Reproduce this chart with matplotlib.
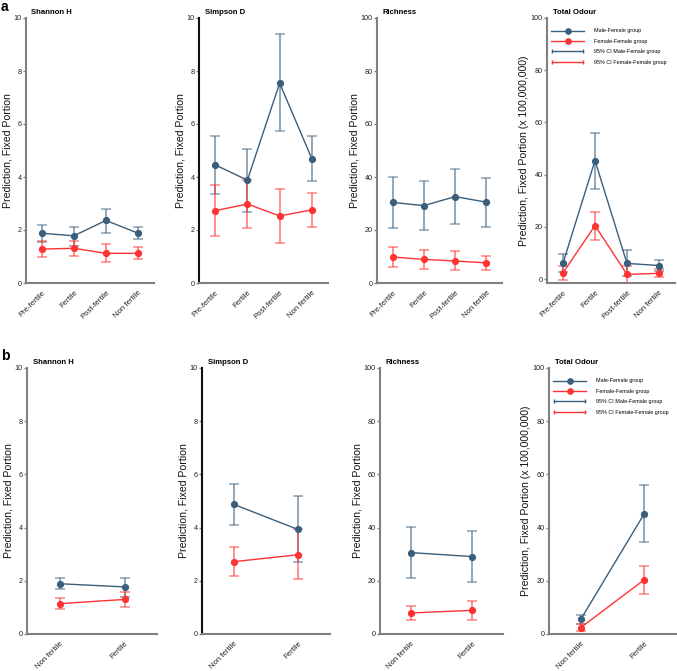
import matplotlib
matplotlib.use("Agg")
import matplotlib.pyplot as plt
from matplotlib.lines import Line2D
from matplotlib.legend_handler import HandlerLine2D
from matplotlib.transforms import ScaledTranslation

plt.rcParams['font.family'] = ['Liberation Sans', 'DejaVu Sans']

# ---------------- data ----------------
cats_a = ["Pre-fertile", "Fertile", "Post-fertile", "Non fertile"]
cats_b = ["Non fertile", "Fertile"]

# Row a
shan_mf_a = [1.88, 1.78, 2.36, 1.88]
shan_mf_a_lo = [1.55, 1.40, 1.90, 1.65]
shan_mf_a_hi = [2.19, 2.13, 2.81, 2.10]
shan_ff_a = [1.28, 1.31, 1.12, 1.12]
shan_ff_a_lo = [0.98, 1.02, 0.78, 0.89]
shan_ff_a_hi = [1.59, 1.60, 1.46, 1.35]

simp_mf_a = [4.46, 3.88, 7.54, 4.69]
simp_mf_a_lo = [3.35, 2.67, 5.72, 3.85]
simp_mf_a_hi = [5.54, 5.05, 9.38, 5.53]
simp_ff_a = [2.73, 2.98, 2.53, 2.76]
simp_ff_a_lo = [1.79, 2.09, 1.51, 2.13]
simp_ff_a_hi = [3.69, 3.88, 3.53, 3.39]

rich_mf_a = [30.4, 29.2, 32.6, 30.5]
rich_mf_a_lo = [20.8, 20.0, 22.2, 21.0]
rich_mf_a_hi = [39.9, 38.5, 43.2, 39.8]
rich_ff_a = [9.8, 8.9, 8.3, 7.6]
rich_ff_a_lo = [5.9, 5.4, 4.8, 4.9]
rich_ff_a_hi = [13.7, 12.6, 12.1, 10.2]

odour_mf_a = [6.1, 45.4, 6.0, 5.2]
odour_mf_a_lo = [2.8, 34.5, 1.2, 3.1]
odour_mf_a_hi = [9.5, 56.1, 11.1, 7.4]
odour_ff_a = [2.4, 20.5, 1.8, 2.2]
odour_ff_a_lo = [-0.5, 15.0, -1.7, 0.8]
odour_ff_a_hi = [5.1, 25.8, 5.1, 3.7]

# Row b
shan_mf_b = [1.89, 1.77]
shan_mf_b_lo = [1.69, 1.39]
shan_mf_b_hi = [2.11, 2.11]
shan_ff_b = [1.14, 1.30]
shan_ff_b_lo = [0.93, 1.00]
shan_ff_b_hi = [1.35, 1.58]

simp_mf_b = [4.87, 3.93]
simp_mf_b_lo = [4.11, 2.69]
simp_mf_b_hi = [5.64, 5.19]
simp_ff_b = [2.72, 2.98]
simp_ff_b_lo = [2.17, 2.08]
simp_ff_b_hi = [3.26, 3.96]

rich_mf_b = [30.6, 29.1]
rich_mf_b_lo = [21.1, 19.7]
rich_mf_b_hi = [40.1, 38.7]
rich_ff_b = [7.9, 8.9]
rich_ff_b_lo = [5.3, 5.4]
rich_ff_b_hi = [10.5, 12.4]

odour_mf_b = [5.5, 45.2]
odour_mf_b_lo = [3.6, 34.6]
odour_mf_b_hi = [7.3, 56.0]
odour_ff_b = [2.4, 20.4]
odour_ff_b_lo = [1.0, 14.9]
odour_ff_b_hi = [3.8, 25.6]

titles = ["Shannon H", "Simpson D", "Richness", "Total Odour"]
ylabels = ["Prediction, Fixed Portion"] * 3 + ["Prediction, Fixed Portion (x 100,000,000)"]
legend_labels = ["Male-Female group", "Female-Female group",
                 "95% CI Male-Female group", "95% CI Female-Female group"]

# ---------------- style ----------------
BLUE = "#3a5f7d"
RED = "#ff3333"
SPINE = "#808080"

W, H = 677, 671
fig = plt.figure(figsize=(W / 100, H / 100), dpi=100)

def fx(x0, x1, y0, y1):
    return [x0 / W, 1 - y1 / H, (x1 - x0) / W, (y1 - y0) / H]

row_a_pos = [(25.7, 154, 18, 283), (199, 328, 18, 283), (377, 502, 18, 283), (547, 675, 18, 283)]
row_b_pos = [(27, 157, 368, 634), (202, 330, 368, 634), (380, 503, 368, 634), (549, 676, 368, 634)]

data_a = [
    (shan_mf_a, shan_mf_a_lo, shan_mf_a_hi, shan_ff_a, shan_ff_a_lo, shan_ff_a_hi),
    (simp_mf_a, simp_mf_a_lo, simp_mf_a_hi, simp_ff_a, simp_ff_a_lo, simp_ff_a_hi),
    (rich_mf_a, rich_mf_a_lo, rich_mf_a_hi, rich_ff_a, rich_ff_a_lo, rich_ff_a_hi),
    (odour_mf_a, odour_mf_a_lo, odour_mf_a_hi, odour_ff_a, odour_ff_a_lo, odour_ff_a_hi),
]
data_b = [
    (shan_mf_b, shan_mf_b_lo, shan_mf_b_hi, shan_ff_b, shan_ff_b_lo, shan_ff_b_hi),
    (simp_mf_b, simp_mf_b_lo, simp_mf_b_hi, simp_ff_b, simp_ff_b_lo, simp_ff_b_hi),
    (rich_mf_b, rich_mf_b_lo, rich_mf_b_hi, rich_ff_b, rich_ff_b_lo, rich_ff_b_hi),
    (odour_mf_b, odour_mf_b_lo, odour_mf_b_hi, odour_ff_b, odour_ff_b_lo, odour_ff_b_hi),
]

ylims = [(0, 10), (0, 10), (0, 100), (0, 100)]
yticks = [[0, 2, 4, 6, 8, 10]] * 2 + [[0, 20, 40, 60, 80, 100]] * 2


def draw_series(ax, x, m, lo, hi, color):
    yerr = [[mi - l for mi, l in zip(m, lo)], [h - mi for mi, h in zip(m, hi)]]
    ax.errorbar(x, m, yerr=yerr, fmt="none", ecolor=color, elinewidth=1.4,
                capsize=3.3, capthick=1.2, alpha=0.55, zorder=2)
    ax.plot(x, m, color=color, lw=1.0, marker="o", ms=4.2, zorder=3)


def make_panel(pos, cats, d, idx, row):
    ax = fig.add_axes(fx(*pos))
    x = list(range(len(cats)))
    mf, mflo, mfhi, ff, fflo, ffhi = d
    draw_series(ax, x, mf, mflo, mfhi, BLUE)
    draw_series(ax, x, ff, fflo, ffhi, RED)
    ax.set_xlim(-0.5, len(cats) - 0.5)
    lo, hi = ylims[idx]
    if idx == 3 and row == "a":
        lo = -1.5
    ax.set_ylim(lo, hi)
    ax.set_yticks(yticks[idx])
    ax.set_xticks(x)
    ax.set_xticklabels(cats, rotation=45, ha="right", rotation_mode="anchor",
                       fontsize=5.6, color="#222222")
    shift = ScaledTranslation(2.5 / 100, 0, fig.dpi_scale_trans)
    for lab in ax.get_xticklabels():
        lab.set_transform(lab.get_transform() + shift)
    ax.tick_params(axis="x", length=0, pad=4.3)
    ax.tick_params(axis="y", length=2, width=1, color=SPINE, labelsize=5.2,
                   pad=1, labelcolor="#222222")
    for s in ["top", "right"]:
        ax.spines[s].set_visible(False)
    for s in ["left", "bottom"]:
        ax.spines[s].set_color(SPINE)
        ax.spines[s].set_linewidth(1.5)
    if idx == 1:
        ax.spines["left"].set_color("#111111")
    ax.set_ylabel(ylabels[idx], fontsize=7.6, labelpad=1, color="#111111")
    ax.set_title(titles[idx], fontsize=5.6, fontweight="bold", loc="left",
                 x=0.045, pad=3.2)
    if idx == 3:
        h1 = Line2D([0, 1], [0, 0], color=BLUE, marker="o", ms=3.8, lw=1.0)
        h2 = Line2D([0, 1], [0, 0], color=RED, marker="o", ms=3.8, lw=1.0)
        h3 = Line2D([0, 1], [0, 0], color=BLUE, marker="|", ms=3.5, lw=1.0, mew=1.0)
        h4 = Line2D([0, 1], [0, 0], color=RED, marker="|", ms=3.5, lw=1.0, mew=1.0)
        ax.legend([h1, h2, h3, h4], legend_labels, loc="upper left",
                  bbox_to_anchor=(0.0, 0.975), frameon=False, fontsize=3.9,
                  handlelength=6.2, handletextpad=1.7, labelspacing=1.0,
                  numpoints=1, borderaxespad=0.3,
                  handler_map={h3: HandlerLine2D(numpoints=2),
                               h4: HandlerLine2D(numpoints=2)})
    return ax


for i in range(4):
    make_panel(row_a_pos[i], cats_a, data_a[i], i, "a")
    make_panel(row_b_pos[i], cats_b, data_b[i], i, "b")

fig.text(1 / W, 1 - 11 / H, "a", fontsize=10, fontweight="bold", va="baseline", ha="left")
fig.text(1 / W, 1 - 360 / H, "b", fontsize=10, fontweight="bold", va="baseline", ha="left")

fig.savefig("out.png", dpi=100)
